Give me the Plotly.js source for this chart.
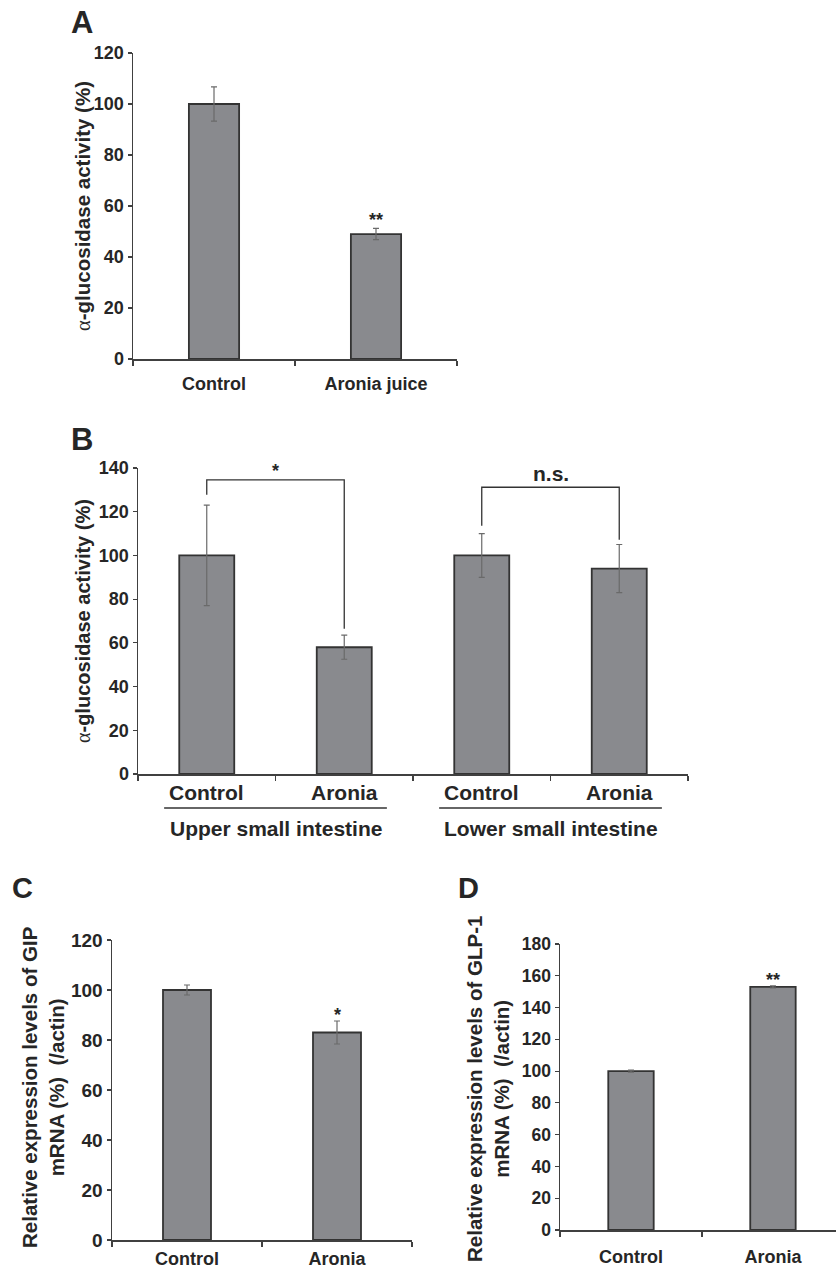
<!DOCTYPE html>
<html>
<head>
<meta charset="utf-8">
<script src="https://cdn.plot.ly/plotly-3.0.1.min.js"></script>
<style>html,body{margin:0;padding:0;background:#fff;}#chart{width:836px;height:1271px;}</style>
</head>
<body>
<div id="chart"></div>
<script>
// ---- data ----
const catsA = ["Control", "Aronia juice"];
const valsA = [100, 49];
const errA = [6.7, 2.2];
const sigA = ["", "**"];

const catsB = ["Control", "Aronia", "Control", "Aronia"];
const groupsB = ["Upper small intestine", "Lower small intestine"];
const valsB = [100, 58, 100, 94];
const errB = [23, 5.5, 10, 11];
const bracketTopB = [134.6, 131.2];
const bracketLabelsB = ["*", "n.s."];

const catsC = ["Control", "Aronia"];
const valsC = [100, 83];
const errC = [2, 4.6];
const sigC = ["", "*"];

const catsD = ["Control", "Aronia"];
const valsD = [100, 153];
const errD = [0.6, 0.7];
const sigD = ["", "**"];

const ticksA = [0, 20, 40, 60, 80, 100, 120];
const ticksB = [0, 20, 40, 60, 80, 100, 120, 140];
const ticksC = [0, 20, 40, 60, 80, 100, 120];
const ticksD = [0, 20, 40, 60, 80, 100, 120, 140, 160, 180];

// ---- style ----
const FONT = "'Liberation Sans', Arial, Helvetica, sans-serif";
const TXT = "#262626";
const AX = "#404040";
const BARFILL = "#898a8e";
const BARLINE = "#333333";
const W = 836, H = 1271;
const px = v => v / W;          // x pixel -> paper
const py = v => 1 - v / H;      // y pixel -> paper
const ALPHA = "<span style=\"font-family:'Liberation Serif',serif;font-weight:normal\">α</span>";

function barTrace(x, y, err, width, xa, ya) {
  return {
    type: "bar", x: x, y: y, xaxis: xa, yaxis: ya, width: width,
    marker: {color: BARFILL, line: {color: BARLINE, width: 1.8}},
    error_y: {type: "data", array: err, visible: true, color: "#6a6a6a", thickness: 1.2, width: 3},
    hoverinfo: "skip", showlegend: false
  };
}

const xB = catsB.map((c, i) => i);

const data = [
  barTrace(catsA, valsA, errA, 0.31, "x", "y"),
  barTrace(xB, valsB, errB, 0.4, "x2", "y2"),
  barTrace(catsC, valsC, errC, 0.32, "x3", "y3"),
  barTrace(catsD, valsD, errD, 0.32, "x4", "y4")
];

function yAxis(dom, range, ticks, size, anchor) {
  return {
    domain: dom, range: range, tickvals: ticks, anchor: anchor,
    showline: true, linecolor: AX, linewidth: 1.5, showgrid: false, zeroline: false,
    ticks: "outside", ticklen: 4, tickwidth: 1.2, tickcolor: AX,
    tickfont: {family: FONT, size: size, color: TXT, weight: "bold"},
    fixedrange: true
  };
}
function xAxisCat(dom, range, size, anchor, standoff) {
  return {
    domain: dom, range: range, type: "category", anchor: anchor,
    showline: true, linecolor: AX, linewidth: 1.5, showgrid: false, zeroline: false,
    ticks: "outside", ticklen: 5, tickwidth: 1.2, tickcolor: AX, tickson: "boundaries",
    tickfont: {family: FONT, size: size, color: TXT, weight: "bold"},
    ticklabelstandoff: standoff, fixedrange: true
  };
}

const layout = {
  width: W, height: H,
  margin: {l: 0, r: 0, t: 0, b: 0},
  paper_bgcolor: "#fff", plot_bgcolor: "rgba(0,0,0,0)",
  showlegend: false, bargap: 0,
  xaxis: xAxisCat([px(133), px(457)], [-0.5, 1.5], 18, "y", 8),
  yaxis: yAxis([py(359), py(53)], [0, 120], ticksA, 18, "x"),
  xaxis2: {
    domain: [px(138), px(688)], range: [-0.5, 3.5], anchor: "y2",
    tickvals: [-0.5, 0.5, 1.5, 2.5, 3.5], ticktext: ["", "", "", "", ""],
    showline: true, linecolor: AX, linewidth: 1.5, showgrid: false, zeroline: false,
    ticks: "outside", ticklen: 5, tickwidth: 1.2, tickcolor: AX, fixedrange: true
  },
  yaxis2: yAxis([py(774), py(468)], [0, 140], ticksB, 18, "x2"),
  xaxis3: xAxisCat([px(112), px(412)], [-0.5, 1.5], 18, "y3", 2),
  yaxis3: yAxis([py(1240), py(940)], [0, 120], ticksC, 19, "x3"),
  xaxis4: xAxisCat([px(560), 1], [-0.5, 1.444], 18, "y4", 10),
  yaxis4: yAxis([py(1230), py(944)], [0, 180], ticksD, 17.5, "x4"),
  shapes: [],
  annotations: []
};

const ann = layout.annotations;
function addText(text, x, y, size, opts) {
  ann.push(Object.assign({
    text: text, x: x, y: y, xref: "paper", yref: "paper", showarrow: false,
    xanchor: "center", yanchor: "middle",
    font: {family: FONT, size: size, color: TXT, weight: "bold"}
  }, opts || {}));
}

// panel letters
addText("A", px(82), py(22), 31);
addText("B", px(82), py(439), 31);
addText("C", px(22), py(888), 29);
addText("D", px(468), py(888), 29);

// y-axis titles
addText(ALPHA + "-glucosidase activity (%)", px(82), py(206), 20.5, {textangle: -90});
addText(ALPHA + "-glucosidase activity (%)", px(83), py(621), 20, {textangle: -90});
addText("Relative expression levels of GIP<br>mRNA (%)  (/actin)", px(43), py(1088), 20.5, {textangle: -90});
addText("Relative expression levels of GLP-1<br>mRNA (%)  (/actin)", px(488), py(1089), 20.5, {textangle: -90});

// significance marks A, C, D
function sig(marks, vals, errs, xa, ya, cats, size, shift) {
  marks.forEach((m, i) => {
    if (!m) return;
    ann.push({text: m, x: cats[i], y: vals[i] + errs[i], xref: xa, yref: ya,
      showarrow: false, xanchor: "center", yanchor: "bottom", yshift: shift,
      font: {family: FONT, size: size, color: TXT, weight: "bold"}});
  });
}
sig(sigA, valsA, errA, "x", "y", catsA, 18, -4);
sig(sigC, valsC, errC, "x3", "y3", catsC, 18, -6);
sig(sigD, valsD, errD, "x4", "y4", catsD, 18, -6);

// panel B category labels, group labels, underlines
catsB.forEach((c, i) => {
  ann.push({text: c, x: xB[i], y: py(792), xref: "x2", yref: "paper", showarrow: false,
    xanchor: "center", yanchor: "middle",
    font: {family: FONT, size: 21, color: TXT, weight: "bold"}});
});
groupsB.forEach((g, gi) => {
  const a = xB[gi * 2], b = xB[gi * 2 + 1];
  ann.push({text: g, x: (a + b) / 2, y: py(828), xref: "x2", yref: "paper", showarrow: false,
    xanchor: "center", yanchor: "middle",
    font: {family: FONT, size: 21, color: TXT, weight: "bold"}});
  layout.shapes.push({type: "line", xref: "x2", yref: "paper",
    x0: a - 0.31, x1: b + 0.31, y0: py(808), y1: py(808),
    line: {color: "#333", width: 1.5}});
  // significance bracket
  const top = bracketTopB[gi];
  const lEnd = valsB[gi * 2] + errB[gi * 2] + (gi === 0 ? 4.8 : 3.6);
  const rEnd = valsB[gi * 2 + 1] + errB[gi * 2 + 1] + (gi === 0 ? 2.9 : 2.2);
  layout.shapes.push({type: "path", xref: "x2", yref: "y2",
    path: `M ${a} ${lEnd} L ${a} ${top} L ${b} ${top} L ${b} ${rEnd}`,
    line: {color: "#333", width: 1.3}});
  ann.push({text: bracketLabelsB[gi], x: (a + b) / 2, y: top, xref: "x2", yref: "y2",
    showarrow: false, xanchor: "center", yanchor: "bottom", yshift: gi === 0 ? -3 : 0,
    font: {family: FONT, size: gi === 0 ? 18 : 21, color: TXT, weight: "bold"}});
});

Plotly.newPlot("chart", data, layout, {staticPlot: true, displayModeBar: false});
</script>
</body>
</html>
